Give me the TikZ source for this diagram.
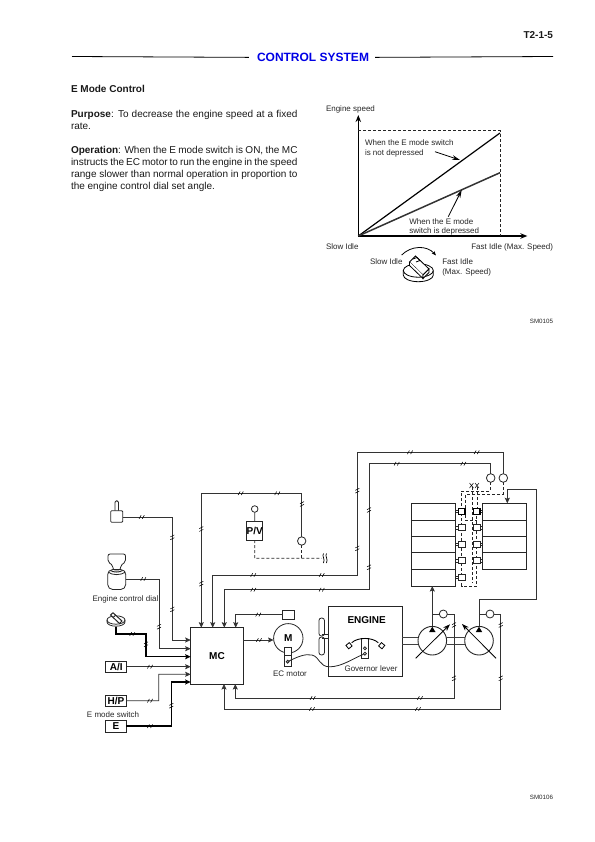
\documentclass[tikz,border=0pt]{standalone}
\usepackage{fontspec}
\setmainfont{Liberation Sans}
\usetikzlibrary{arrows.meta,calc}
\definecolor{wirecol}{gray}{0.2}
\newcommand{\fsz}[1]{\fontsize{#1bp}{#1bp}\selectfont}
\tikzset{
  txt/.style={inner sep=0pt,outer sep=0pt,anchor=base west,font=\fsz{10},text=black!90},
  lbl/.style={inner sep=0pt,outer sep=0pt,anchor=base west,font=\fsz{8},text=black!85},
  lblr/.style={lbl,anchor=base east},
  lblc/.style={lbl,anchor=base},
  wire/.style={draw=wirecol,line width=.75bp},
  heavy/.style={draw=black,line width=1.5bp},
  tip/.style={-{Stealth[length=5.5bp,width=5bp,inset=1bp]}},
  dashln/.style={draw=black!85,line width=.7bp,dash pattern=on 3bp off 2bp},
  boxn/.style={draw=black!85,line width=.8bp,inner sep=0pt,outer sep=0pt,font=\bfseries\fsz{10}},
  ring/.style={draw=black!85,line width=.8bp,circle,inner sep=0pt,outer sep=0pt,fill=white},
  pump/.style={ring,minimum size=28.6bp,line width=.9bp,fill=none},
  sol/.style={draw=black!85,line width=.8bp,inner sep=0pt,outer sep=0pt,minimum width=6.7bp,minimum height=6bp,fill=white},
  slash/.style={draw=black,line width=.55bp},
  hb/.pic={\draw[slash] (-2.6,1.8) -- (-.6,-1.8) (.6,1.8) -- (2.6,-1.8);},
  vb/.pic={\draw[slash] (-2,-.4) -- (2,-2.4) (-2,2.4) -- (2,.4);},
}
\begin{document}
\begin{tikzpicture}[x=1bp,y=-1bp]
\useasboundingbox (0,0) rectangle (595,842);
% ---- header
\node[txt,anchor=base east,font=\bfseries\fsz{10}] (pageno) at (553,38.3) {T2-1-5};
\node[inner sep=0pt,anchor=base,font=\bfseries\fsz{12},text=blue!90!black] (title) at (313,61.5) {CONTROL SYSTEM};
\coordinate (ruleA) at (72,56.5); \coordinate (ruleB) at (553,56.5);
\draw[line width=.8bp] (ruleA) -- ($(title.west)+(-8,0)$ |- ruleA);
\draw[line width=.8bp] ($(title.east)+(6,0)$ |- ruleB) -- (ruleB);
% ---- text
\node[txt,font=\bfseries\fsz{10}] (t0) at (71,92.8) {E Mode Control};
\node[txt] (t1) at (71,117) {\makebox[226.5bp][s]{\textbf{Purpose}: To decrease the engine speed at a fixed}};
\node[txt] (t2) at (71,129) {rate.};
\node[txt] (t3) at (71,153) {\makebox[226.5bp][s]{\textbf{Operation}: When the E mode switch is ON, the MC}};
\node[txt] (t4) at (71,165) {\makebox[226.5bp][s]{instructs the EC motor to run the engine in the speed}};
\node[txt] (t5) at (71,177) {\makebox[226.5bp][s]{range slower than normal operation in proportion to}};
\node[txt] (t6) at (71,189) {the engine control dial set angle.};
% ---- chart
\coordinate (o) at (358.3,236);
\coordinate (yend) at (358.3,115);
\coordinate (xend) at (527.3,236);
\coordinate (hi) at (500,133);
\coordinate (lo) at (500,172.7);
\draw[line width=1.2bp,-{Stealth[length=7bp,width=5.5bp]}] (o) -- (yend);
\draw[line width=1.2bp,-{Stealth[length=7bp,width=5.5bp]}] (o) -- (xend);
\draw[line width=1.2bp] (o) -- (hi);
\draw[line width=1.5bp,draw=black!80] (o) -- (lo);
\draw[dashln] (358.3,130.7) -- (500,130.7) -- (500,236);
\node[lbl] (e1) at (326,111.6) {Engine speed};
\node[lbl] (e2) at (365,145.8) {When the E mode switch};
\node[lbl] (e3) at (365,155.2) {is not depressed};
\node[lbl] (e4) at (409.3,224.4) {When the E mode};
\node[lbl] (e5) at (409.3,233.8) {switch is depressed};
\node[lbl] (e6) at (326,249.6) {Slow Idle};
\node[lblr] (e7) at (553,249.6) {Fast Idle (Max. Speed)};
\node[lbl] (e8) at (370,264.6) {Slow Idle};
\node[lbl] (e9) at (442.3,264.6) {Fast Idle};
\node[lbl] (e10) at (442.3,274.4) {(Max. Speed)};
\node[lblr,font=\fsz{6.2}] (s1) at (553,323.4) {SM0105};
\node[lblr,font=\fsz{6.2}] (s2) at (553,799.4) {SM0106};
\coordinate (a1) at (435,151.7); \coordinate (a2) at (460,160);
\coordinate (a3) at (448.3,216.7); \coordinate (a4) at (461.7,190);
\draw[line width=.8bp,-{Stealth[length=8bp,width=4.6bp]}] (a1) -- (a2);
\draw[line width=.8bp,-{Stealth[length=8bp,width=4.6bp]}] (a3) -- (a4);
% chart dial icon
\begin{scope}[line width=.8bp]
\draw (403.3,270.5) -- (403.3,275) arc[start angle=180,end angle=0,x radius=15,y radius=6.7] -- (433.3,270.5);
\draw (418.3,270.5) ellipse [x radius=15,y radius=6.7];
\draw[fill=white] (409.5,262) -- (415.5,256) -- (429,269) -- (423,275) -- cycle;
\draw[fill=white] (409.5,262) -- (409.5,265.5) -- (423,278.5) -- (423,275);
\draw[fill=white] (423,275) -- (423,278.5) -- (429,272.5) -- (429,269) -- cycle;
\draw (413,259) -- (417,257.5) -- (420,260.5) -- (416,262);
\draw[-{Stealth[length=4.5bp,width=3.5bp]}] (401.7,255) .. controls (411,245.5) and (427,245) .. (436,255.5);
\end{scope}
% ---- left side devices
% toggle
\node[boxn,rounded corners=1bp,minimum width=12bp,minimum height=11.6bp] (tog) at (116.7,516.5) {};
\draw[line width=.8bp,draw=black!85,rounded corners=1.5bp] (115,510.7) -- (115,500.7) -- (118.4,500.7) -- (118.4,510.7);
% engine control dial
\draw[line width=.8bp,draw=black!85,rounded corners=2bp,fill=white] (108,554) -- (125.5,554) -- (125.5,562) -- (120.5,565.5) -- (120.5,570) -- (113,570) -- (113,565.5) -- (108,562) -- cycle;
\node[draw=black!85,line width=.8bp,rounded corners=5bp,inner sep=0pt,outer sep=0pt,minimum width=18bp,minimum height=20bp] (dial) at (116.7,579.5) {};
\draw[line width=.8bp,draw=black!85] (108,572) .. controls (112,575.5) and (121,575.5) .. (125.5,572);
\draw[line width=1bp,draw=black!85] (110.5,570.5) .. controls (113,572.5) and (120,572.5) .. (122.5,570.5);
\node[lbl,anchor=base] (dlbl) at (125.5,601) {Engine control dial};
% small dial
\begin{scope}[line width=.8bp,draw=black!85]
\draw (107,620) -- (107,622) arc[start angle=180,end angle=0,x radius=9,y radius=4.2] -- (125,620);
\draw (116,620) ellipse [x radius=9,y radius=4.2];
\draw[fill=white,line width=1bp] (110.5,615) -- (113,612.8) -- (122,621) -- (119.5,623.5) -- cycle;
\draw[line width=1bp] (113.5,617) -- (116,615);
\end{scope}
\coordinate (smd) at (116,626.7);
\node[boxn,minimum width=21bp,minimum height=11bp] (ai) at (116.2,667.2) {A/I};
\node[boxn,minimum width=20.3bp,minimum height=11.7bp] (hp) at (115.9,700.8) {H/P};
\node[boxn,minimum width=20.3bp,minimum height=12.3bp,line width=1bp] (emode) at (115.9,726.2) {E};
\node[lblc] (elbl) at (113,717.5) {E mode switch};
% ---- MC
\node[boxn,minimum width=52.6bp,minimum height=56.3bp] (mc) at (217,655.85) {MC};
\coordinate (L1) at (190.7,640); \coordinate (L2) at (190.7,648.7); \coordinate (L3) at (190.7,656.7);
\coordinate (L4) at (190.7,666.7); \coordinate (L5) at (190.7,674.3); \coordinate (L6) at (190.7,682);
\coordinate (T1) at (201.3,627.7); \coordinate (T2) at (212.7,627.7); \coordinate (T3) at (224.3,627.7); \coordinate (T4) at (235.7,627.7);
\coordinate (B1) at (224,684); \coordinate (B2) at (235.3,684);
\coordinate (R1) at (243.3,640);
% left wires
\draw[wire,tip] (tog.east |- 0,517) -- (172.3,517) -- (172.3,640) -- (L1);
\draw[wire,tip] (dial.east |- 0,579) -- (159,579) -- (159,648.7) -- (L2);
\draw[heavy,tip] (smd) -- (116,634) -- (146,634) -- (146,656.7) -- (L3);
\draw[wire,tip] (ai.east |- L4) -- (L4);
\draw[wire,tip] (hp.east) -- (158.7,700.7) -- (158.7,674.3) -- (L5);
\draw[heavy,tip] (emode.east) -- (171.3,726.2) -- (171.3,682) -- (L6);
\foreach \x/\y in {141.7/517,143.3/579,132.3/634,150/666.7,150/700.7,150/726.2}
  \pic at (\x,\y) {hb};
\foreach \x/\y in {172.3/537.3,172.3/609.3,159/626.7,146/644.3,171.3/705.7}
  \pic at (\x,\y) {vb};
% ---- P/V
\node[boxn,minimum width=15bp,minimum height=19bp] (pv) at (254.8,530.5) {P/V};
\node[ring,minimum size=6.6bp] (pvc) at (254.7,509) {};
\draw[wire] (pvc) -- (pv);
\node[ring,minimum size=8.4bp] (sens) at (301.7,541) {};
\coordinate (dj) at (301.7,558.3); \coordinate (dk) at (254.7,558.3); \coordinate (dend) at (321.7,558.3);
\draw[dashln] (pv.south) -- (dk) -- (dend);
\draw[dashln] (sens) -- (dj);
\draw[line width=.7bp] (323.5,553.5) .. controls (321.5,556) and (325.5,559) .. (323.5,563);
\draw[line width=.7bp] (326.5,553.5) .. controls (324.5,556) and (328.5,559) .. (326.5,563);
\draw[wire,tip] (sens) -- (301.7,493.3) -- (201.3,493.3) -- (T1);
\foreach \x/\y in {240.7/493.3,277.3/493.3} \pic at (\x,\y) {hb};
\foreach \x/\y in {302/504,201.3/529,201.3/583.7} \pic at (\x,\y) {vb};
% ---- valve sensors
\node[ring,minimum size=8.6bp] (p1) at (490.7,478) {};
\node[ring,minimum size=8.6bp] (p2) at (503.3,478) {};
\draw[wire,tip] (p2) -- (503.3,452.3) -- (357.3,452.3) -- (357.3,575) -- (212.7,575) -- (T2);
\draw[wire,tip] (p1) -- (490.7,463.7) -- (369,463.7) -- (369,589.7) -- (224.3,589.7) -- (T3);
\foreach \x/\y in {253.3/575,321.7/575,253.3/589.7,321.7/589.7,410/452.3,476.7/452.3,396.7/463.7,463.3/463.7} \pic at (\x,\y) {hb};
\foreach \x/\y in {357.3/490.7,357.3/548.3,369/510,369/567.3} \pic at (\x,\y) {vb};
% ---- small box and motor
\node[boxn,minimum width=11.5bp,minimum height=9.3bp] (sb) at (288.3,614.6) {};
\draw[wire,tip] (sb.west) -- (235.7,614.6) -- (T4);
\pic at (258.3,614.6) {hb};
\node[ring,minimum size=29.4bp,fill=none,font=\bfseries\fsz{10}] (mot) at (288.3,638.3) {M};
\draw[wire,tip] (R1) -- (mot.west |- R1);
\pic at (259,640) {hb};
\node[draw=black!85,line width=.8bp,minimum width=7.4bp,minimum height=19.4bp,inner sep=0pt,fill=white] (ecb) at (288,657) {};
\draw[line width=.7bp,draw=black!85] (284.3,655) -- (291.7,655);
\node[ring,minimum size=3bp,fill=black!30] (ecp) at (287.7,661.7) {};
\node[lblc] (eclbl) at (290,676) {EC motor};
% ---- engine
\node[boxn,minimum width=74bp,minimum height=70bp] (eng) at (365.3,641) {};
\node[inner sep=0pt,font=\bfseries\fsz{10}] (englbl) at (366.7,620) {ENGINE};
\node[lbl,anchor=base] (govlbl) at (371,671.8) {Governor lever};
\node[draw=black!85,line width=.8bp,minimum width=7.4bp,minimum height=20bp,inner sep=0pt,fill=white] (gov) at (364.7,648.3) {};
\node[ring,minimum size=3bp] (g1) at (364.9,648.3) {};
\node[ring,minimum size=3bp] (g2) at (364.9,653.7) {};
\draw[line width=.9bp] (351.7,642.7) .. controls (358,637) and (372,637) .. (378.3,642.7);
\node[draw=black,line width=.8bp,fill=white,minimum size=4.4bp,inner sep=0pt,rotate=40] (d1) at (349,645.7) {};
\node[draw=black,line width=.8bp,fill=white,minimum size=4.4bp,inner sep=0pt,rotate=-40] (d2) at (381.7,645.7) {};
\draw[line width=.8bp,draw=black!85] (ecp) .. controls (297,657) and (305,653.5) .. (312,655) .. controls (320,657) and (319,667) .. (330,666.8) .. controls (342,666.5) and (352,659) .. (g2);
% fan
\node[draw=black!85,line width=.8bp,inner sep=0pt,minimum width=5.6bp,minimum height=18bp,rounded corners=2.6bp] (fan1) at (321.7,627) {};
\node[draw=black!85,line width=.8bp,inner sep=0pt,minimum width=5.6bp,minimum height=18bp,rounded corners=2.6bp] (fan2) at (321.7,646) {};
\draw[line width=.7bp,draw=black!85] (321.7,634.5) -- (eng.west |- 0,634.5) (321.7,638.4) -- (eng.west |- 0,638.4);
% ---- pumps
\node[pump] (pa) at (432.3,640.7) {};
\node[pump] (pb) at (479,640.7) {};
\draw[line width=.8bp,draw=black!75] (eng.east |- 0,637.7) -- (pa.west |- 0,637.7) (eng.east |- 0,644.2) -- (pa.west |- 0,644.2);
\draw[line width=.8bp,draw=black!75] (pa.east |- 0,637.7) -- (pb.west |- 0,637.7) (pa.east |- 0,644.2) -- (pb.west |- 0,644.2);
\coordinate (s1a) at (415.7,658.3); \coordinate (s1b) at (450,624.3);
\coordinate (s2a) at (496,658.3); \coordinate (s2b) at (462,624);
\draw[line width=.8bp,-{Stealth[length=7bp,width=5bp]}] (s1a) -- (s1b);
\draw[line width=.8bp,-{Stealth[length=7bp,width=5bp]}] (s2a) -- (s2b);
\fill (432.3,626.7) -- (435.5,632) -- (429.1,632) -- cycle;
\fill (479,626.7) -- (482.2,632) -- (475.8,632) -- cycle;
% valve blocks
\node[draw=black!85,line width=.9bp,inner sep=0pt,minimum width=43.7bp,minimum height=82.7bp] (vl) at (433.2,544.7) {};
\node[draw=black!85,line width=.9bp,inner sep=0pt,minimum width=44bp,minimum height=66bp] (vr) at (504.7,536.3) {};
\foreach \y in {520,536,552.7,569.3} \draw[line width=.6bp,draw=black!85] (vl.west |- 0,\y) -- (vl.east |- 0,\y);
\foreach \y in {520,536,552.7} \draw[line width=.6bp,draw=black!85] (vr.west |- 0,\y) -- (vr.east |- 0,\y);
% dashed pilot lines (behind solenoids)
\draw[dashln] (p1) -- (490.7,491) -- (461.7,491) -- (461.7,577.3) -- (461.7,586) -- (476.7,586) -- (476.7,511.3);
\draw[dashln] (p2) -- (503.3,494) -- (465.8,494) -- (465.8,520.5) -- (476.7,520.5);
\draw[dashln] (472,487) -- (472,583);
\draw[dashln] (477.3,487) -- (477.3,511);
\draw[line width=.5bp] (469.5,483) -- (473.5,488) (473.5,483) -- (469.5,488) (475,483) -- (479,488) (479,483) -- (475,488);
% solenoids
\foreach \n/\y in {a/511.3,b/527.7,c/544.3,d/560.7,e/577.3}{
  \node[sol] (l\n) at (461.7,\y) {};
  \draw[line width=.7bp,draw=black!85] (vl.east |- 0,\y) ++(0,-1.3) -- ++(3,0) ++(0,2.6) -- ++(-3,0);
}
\foreach \n/\y in {a/511.3,b/527.7,c/544.3,d/560.7}{
  \node[sol] (r\n) at (476.7,\y) {};
  \draw[line width=.7bp,draw=black!85] (r\n.east) ++(0,-1.3) -- ++(3,0) ++(0,2.6) -- ++(-3,0);
}
\draw[line width=1.1bp] (458.4,508.3) rectangle (465,514.3);
\draw[line width=1.1bp] (473.4,508.3) rectangle (480,514.3);
% pump pipes and pressure sensors
\coordinate (vlin) at (432.3,586);
\draw[wire,line width=.8bp,tip] (pa.north) -- (vlin);
\draw[wire,line width=.8bp,tip] (pb.north) -- (479,599.3) -- (536.7,599.3) -- (536.7,489.3) -- (507.3,489.3) -- (507.3,503.3);
\node[ring,minimum size=8bp] (pc1) at (443.3,614) {};
\node[ring,minimum size=8bp] (pc2) at (490,614) {};
\draw[wire] (432.3,614) -- (pc1);
\draw[wire] (479,614) -- (pc2);
\draw[wire,tip] (pc1) -- (454,614) -- (454,698) -- (235.3,698) -- (B2);
\draw[wire,tip] (pc2) -- (500.7,614) -- (500.7,709) -- (224,709) -- (B1);
\foreach \x/\y in {312.7/698,312/709,420/698,418/709} \pic at (\x,\y) {hb};
\foreach \x/\y in {454/625,454/678.3,500.7/625,500.7/678.3} \pic at (\x,\y) {vb};
\end{tikzpicture}
\end{document}
